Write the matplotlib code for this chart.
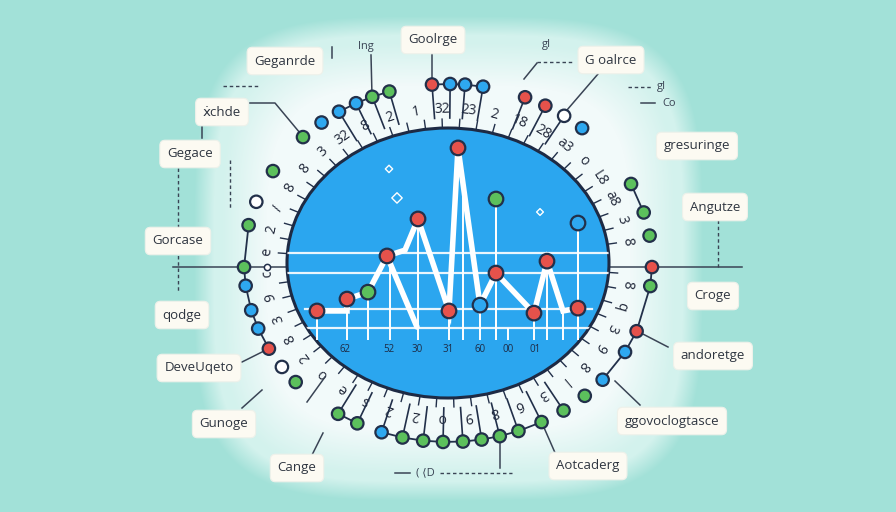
import numpy as np
import matplotlib.pyplot as plt
from matplotlib.patches import Ellipse
from matplotlib.colors import to_rgb

# ---- inner line chart (data units of the inset axes)
line_x = [3.0, 6.0, 6.0, 8.1, 10.0, 11.8, 13.1, 16.2, 17.1, 19.3, 20.9, 24.7, 26.0, 27.6, 29.1]
line_y = [15.0, 15.0, 20.5, 23.7, 40.4, 43.1, 57.5, 15.0, 90.3, 17.7, 32.5, 14.0, 38.0, 15.0, 16.3]
branch_x = [10.0, 13.0]
branch_y = [40.4, 7.6]
point_x = [3.0, 6.0, 8.1, 10.0, 13.1, 16.2, 17.1, 19.3, 20.9, 24.7, 26.0, 29.1]
point_y = [15.0, 20.5, 23.7, 40.4, 57.5, 15.0, 90.3, 17.7, 32.5, 14.0, 38.0, 16.3]
point_kind = ['r', 'r', 'g', 'r', 'r', 'r', 'r', 'b', 'r', 'r', 'r', 'r']
stem_x = [20.9, 29.1]
stem_y = [66.7, 55.6]
stem_kind = ['g', 'b']
drop_x = [3.0, 6.0, 8.1, 10.3, 13.1, 16.2, 17.6, 19.3, 20.9, 22.1, 24.7, 26.0, 27.6, 29.1]
drop_top = [15.0, 20.5, 23.7, 38.0, 57.5, 15.0, 74.0, 17.7, 66.7, 7.1, 14.0, 38.0, 15.0, 55.6]
grid_full = [41.8, 32.5]
grid_part = [15.9, 7.1]
xlab_pos = [5.8, 10.2, 13.0, 16.1, 19.3, 22.1, 24.8]
xlab_text = ['62', '52', '30', '31', '60', '00', '01']
spark_x = [10.2, 11.0, 25.3]
spark_y = [80.6, 67.2, 60.7]

# ---- markers on the outer ring (angle in degrees, colour, linked to next)
ring_ang = [-1.3, 8.8, 16.4, 26.2, 48.9, 55.3, 61.5, 67.8, 80.1, 85.2, 89.4, 94.5,
            106.7, 111.8, 116.8, 122.3, 128.3, 135.3, 149.1, 160.0, 167.8,
            181.3, 187.3, 195.3, 201.5, 208.6, 215.5, 221.7, 237.4, 243.6,
            251.0, 257.1, 263.0, 268.6, 274.2, 279.5, 284.7, 290.2, 297.3,
            304.5, 312.1, 319.3, 330.2, 337.6, 352.6]
ring_kind = list("rgggbwrrbbbr" "ggbbbggwggbbbrw" "ggg" "b" "gggggggggg" "bbrg")
ring_link = [0, 0, 1, 0, 0, 0, 0, 0, 1, 1, 1, 0,
             1, 1, 1, 0, 0, 0, 0, 0, 1,
             1, 1, 1, 1, 0, 0, 0, 1, 0,
             1, 1, 1, 1, 1, 1, 1, 1, 0,
             0, 0, 1, 1, 1, 1]
tick_text = ['8', '3', 'a8', 'L8', 'o', 'a3', '28', '18', '2', '23', '32', '1', '2', '8',
             '32', '3', '8', '8', '/', '2', 'e', 'c', '9', '3', '8', '2', 'o', 'e', 's',
             '2', '2', 'o', '9', '8', '6', '3', 'l', '8', '9', '3', 'q', '8']

# ---- callout labels
label_text = ['Geganrde', 'Goolrge', 'G oalrce', '\u1e8bchde', 'Gegace', 'gresuringe',
              'Angutze', 'Gorcase', 'Croge', 'qodge', 'andoretge', 'DeveUqeto',
              'Gunoge', 'ggovoclogtasce', 'Cange', 'Aotcaderg']
label_pos = [(285, 61), (433, 40), (611, 60), (222, 112), (190, 154), (697, 146),
             (715, 207), (178, 241), (713, 296), (182, 315), (713, 356), (199, 368),
             (224, 424), (672, 421), (297, 468), (588, 466)]

COL = {'r': '#e6524b', 'g': '#5cc05c', 'b': '#2ea8f0', 'w': '#ffffff'}
EDGE = '#22304a'
BG = '#a2e1d8'
BLUE = '#2ba6ef'
FONT = ['Open Sans', 'DejaVu Sans']

cx, cy = 448, 263          # centre of the dial
ea, eb = 161, 135          # blue disc radii
ra, rb = 204, 179          # marker ring radii


def on_ell(ang, a, b):
    t = np.radians(ang)
    return cx + a * np.cos(t), cy - b * np.sin(t)


fig = plt.figure(figsize=(8.96, 5.12), dpi=100)
fig.patch.set_facecolor(BG)
ax = fig.add_axes([0, 0, 1, 1])
ax.set_xlim(0, 896)
ax.set_ylim(512, 0)
ax.axis('off')

# soft glow behind the dial: near white core, pale teal plateau, then background
yy, xx = np.mgrid[0:512, 0:896]
d = ((np.abs(xx - cx) / 252.0) ** 4 + (np.abs(yy - 258) / 240.0) ** 4) ** 0.25
c_in = np.array(to_rgb('#f2fafa'))
c_mid = np.array(to_rgb('#d3f2ed'))
c_out = np.array(to_rgb(BG))
t1 = np.clip((d - 0.72) / 0.18, 0, 1)[..., None]
t2 = np.clip((d - 0.93) / 0.08, 0, 1)[..., None]
glow = c_in * (1 - t1) + c_mid * t1
glow = glow * (1 - t2) + c_out * t2
ax.imshow(glow, extent=(0, 896, 512, 0), aspect='auto', zorder=0,
          interpolation='bilinear')
ax.set_xlim(0, 896)
ax.set_ylim(512, 0)

# radial ticks and glyphs outside the disc
for ang in np.arange(2, 360, 6.0):
    if abs(np.sin(np.radians(ang))) < 0.05:
        continue
    x0, y0 = on_ell(ang, ea + 1, eb + 1)
    x1, y1 = on_ell(ang, ea + 9, eb + 9)
    ax.plot([x0, x1], [y0, y1], color=EDGE, lw=1.0, zorder=2)
for i, ang in enumerate(np.linspace(8, 352, len(tick_text))):
    tx, ty = on_ell(ang, ea + 20, eb + 19)
    ax.text(tx, ty, tick_text[i], rotation=ang - 90, ha='center', va='center',
            fontsize=10, color='#1f2638', family=FONT, zorder=2)

# connecting lines and stems of the ring markers
n = len(ring_ang)
for i in range(n):
    x, y = on_ell(ring_ang[i], ra, rb)
    if ring_link[i]:
        x2, y2 = on_ell(ring_ang[(i + 1) % n], ra, rb)
        ax.plot([x, x2], [y, y2], color=EDGE, lw=1.3, zorder=3)
    if abs(np.sin(np.radians(ring_ang[i]))) > 0.8:
        xs, ys = on_ell(ring_ang[i], ea + 10, eb + 10)
        ax.plot([x, xs], [y, ys], color=EDGE, lw=1.2, zorder=3)

rx, ry = on_ell(np.array(ring_ang), ra, rb)
ax.scatter(rx, ry, s=80, c=[COL[k] for k in ring_kind], edgecolors=EDGE,
           linewidths=1.6, zorder=5)

# decorative leader lines
seg = [[(371, 55), (372, 96)], [(432, 54), (432, 84)],
       [(250, 103), (275, 103), (305, 139)], [(598, 74), (567, 110)],
       [(537, 63), (524, 79)], [(332, 47), (332, 58)],
       [(202, 127), (202, 138)], [(173, 267), (290, 267)], [(606, 267), (742, 267)],
       [(639, 332), (668, 347)], [(615, 381), (640, 405)], [(542, 423), (556, 455)],
       [(268, 349), (242, 362)], [(242, 408), (262, 390)], [(312, 455), (323, 433)],
       [(307, 402), (325, 377)], [(500, 437), (500, 468)], [(395, 473), (410, 473)],
       [(641, 103), (655, 103)]]
for s in seg:
    xs, ys = zip(*s)
    ax.plot(xs, ys, color='#3a4455', lw=1.1, zorder=3)
dash = [[(223, 86), (260, 86)], [(178, 168), (178, 292)], [(230, 160), (230, 208)],
        [(718, 220), (718, 267)], [(537, 62), (572, 62)], [(628, 87), (653, 87)],
        [(440, 473), (512, 473)]]
for s in dash:
    xs, ys = zip(*s)
    ax.plot(xs, ys, color='#3a4455', lw=1.0, ls=(0, (2.5, 2)), zorder=3)
ax.plot([267], [267], 'o', ms=4.5, mfc='white', mec=EDGE, mew=1.1, zorder=4)
for tx, ty, s in [(366, 46, 'lng'), (546, 45, 'gI'), (661, 87, 'gI'), (669, 103, 'Co'),
                  (425, 473, '( \u27e8D')]:
    ax.text(tx, ty, s, ha='center', va='center', fontsize=8, color='#3a4455',
            family=FONT, zorder=4)

# blue disc
disc = Ellipse((cx, cy), 2 * ea, 2 * eb, facecolor=BLUE, edgecolor='#1d2a44',
               lw=2.2, zorder=4)
ax.add_patch(disc)

# labels
for s, (lx, ly) in zip(label_text, label_pos):
    ax.text(lx, ly, s, ha='center', va='center', fontsize=9.5, color='#2e3540',
            family=FONT, zorder=6,
            bbox=dict(boxstyle='round,pad=0.55,rounding_size=0.4', fc='#fcfaf2',
                      ec='#eef1ea', lw=0.8))

# ---- inner chart in its own axes over the disc
ax_in = fig.add_axes([287 / 896, (512 - 398) / 512, 322 / 896, 270 / 512])
ax_in.set_xlim(0, 32.2)
ax_in.set_ylim(-25.2, 99.5)
ax_in.axis('off')

clipped = []
for g in grid_full:
    clipped += ax_in.plot([-1, 33], [g, g], color='white', lw=1.6, alpha=0.9)
for g in grid_part:
    clipped += ax_in.plot([1.8, 30.5], [g, g], color='white', lw=1.6, alpha=0.9)
clipped.append(ax_in.vlines(drop_x, 1.6, drop_top, color='white', lw=1.4))
clipped.append(ax_in.vlines(stem_x, 1.6, stem_y, color='white', lw=1.4))
for a in clipped:
    a.set_clip_path(disc)

ax_in.plot(branch_x, branch_y, color='white', lw=4.0, solid_capstyle='round')
ax_in.plot(line_x, line_y, color='white', lw=4.0, solid_joinstyle='miter')
ax_in.scatter(point_x, point_y, s=110, c=[COL[k] for k in point_kind],
              edgecolors=EDGE, linewidths=1.6, zorder=5)
ax_in.scatter(stem_x, stem_y, s=110, c=[COL[k] for k in stem_kind],
              edgecolors=EDGE, linewidths=1.6, zorder=5)
ax_in.scatter(spark_x, spark_y, s=[14, 28, 12], marker='D', facecolors='none',
              edgecolors='white', linewidths=1.0, zorder=5)
for xp, s in zip(xlab_pos, xlab_text):
    ax_in.text(xp, -2.8, s, ha='center', va='center', fontsize=7,
               color='#1d2a44', family=FONT)

fig.savefig('out.png', dpi=100, facecolor=BG)
